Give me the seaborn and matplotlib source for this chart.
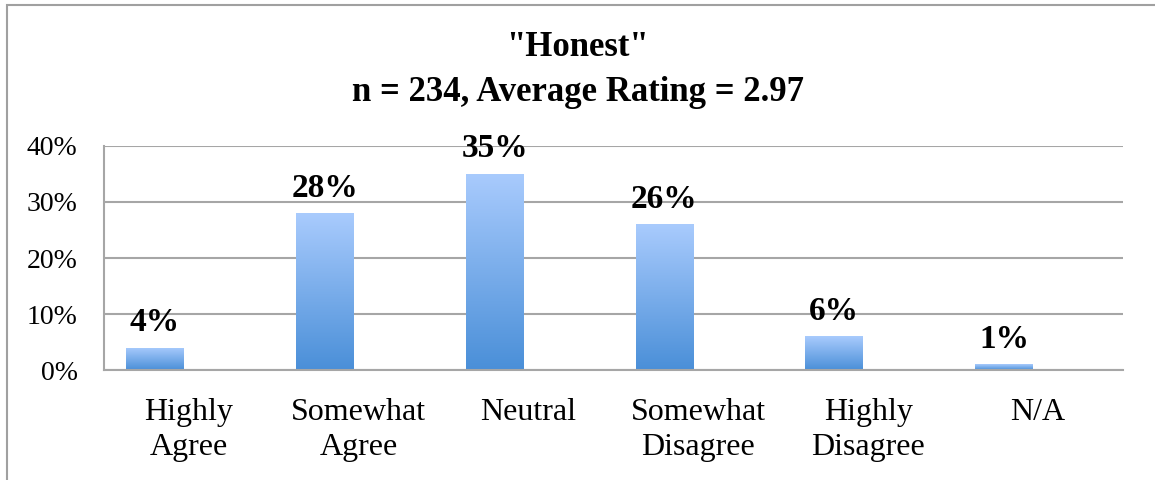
import matplotlib
matplotlib.use('Agg')
import matplotlib.pyplot as plt
from matplotlib.patches import Rectangle
from matplotlib.colors import LinearSegmentedColormap
import numpy as np
import pandas as pd
import seaborn as sns

# Data
categories = ['Highly\nAgree', 'Somewhat\nAgree', 'Neutral',
              'Somewhat\nDisagree', 'Highly\nDisagree', 'N/A']
percents = [4, 28, 35, 26, 6, 1]
title_lines = ['"Honest"', 'n = 234, Average Rating = 2.97']

sns.set_style("white")
plt.rcParams['font.family'] = ['Liberation Serif', 'DejaVu Serif']
plt.rcParams['text.color'] = 'black'
plt.rcParams['xtick.color'] = 'black'
plt.rcParams['ytick.color'] = 'black'

df = pd.DataFrame({'category': categories,
                   'share': [p / 100 for p in percents],
                   'series': 'Honest'})

fig = plt.figure(figsize=(11.55, 4.8), dpi=100)
ax = fig.add_axes([0.090, 0.229, 0.8823, 0.467])

# second (empty) hue level keeps the bars offset to the left, as in the original
sns.barplot(data=df, x='category', y='share', hue='series',
            hue_order=['Honest', '_empty'], dodge=True, width=0.8, gap=0.15,
            palette=['#78aef0', '#ffffff'], linewidth=0, legend=False, ax=ax)

ax.set_ylim(0, 0.4)
ax.set_xlim(-0.5, len(categories) - 0.5)
ax.set_yticks([0, 0.1, 0.2, 0.3, 0.4])
ax.set_yticklabels(['0%', '10%', '20%', '30%', '40%'], fontsize=20)
ax.set_xticks(range(len(categories)))
ax.set_xticklabels(categories, fontsize=23, linespacing=1.3)
ax.tick_params(axis='y', length=0, pad=19)
ax.tick_params(axis='x', length=0, pad=20)
ax.set_xlabel('')
ax.set_ylabel('')

ax.grid(axis='y', color='#a6a6a6', linewidth=1.5)
ax.set_axisbelow(True)
for side in ['top', 'right']:
    ax.spines[side].set_visible(False)
for side in ['left', 'bottom']:
    ax.spines[side].set_color('#a6a6a6')
    ax.spines[side].set_linewidth(1.5)

# gradient fill for bars
cmap = LinearSegmentedColormap.from_list('bar', ['#4a8fd8', '#a9cbfd'])
grad = np.linspace(0, 1, 256).reshape(-1, 1)
bars = [p for p in ax.patches if p.get_height() > 0]
for p, v in zip(bars, percents):
    x0, w, h = p.get_x(), p.get_width(), p.get_height()
    p.set_facecolor('none')
    img = ax.imshow(grad, cmap=cmap, origin='lower', aspect='auto',
                    extent=(x0, x0 + w, 0, h), zorder=2)
    img.set_clip_path(p)
    ax.annotate(f'{v}%', xy=(x0 + w / 2, h), xytext=(0, 18),
                textcoords='offset points', ha='center', va='center',
                fontsize=24, fontweight='bold')
ax.set_xlim(-0.5, len(categories) - 0.5)
ax.set_ylim(0, 0.4)

fig.text(0.5, 0.90, title_lines[0], ha='center', va='center',
         fontsize=25, fontweight='bold')
fig.text(0.5, 0.808, title_lines[1], ha='center', va='center',
         fontsize=25, fontweight='bold')

# outer chart frame
fig.patches.append(Rectangle((0.0061, -0.5), 2, 1.4896, transform=fig.transFigure,
                             fill=False, edgecolor='#a0a0a0', linewidth=1.5))

fig.savefig('out.png', dpi=100)
plt.close(fig)
